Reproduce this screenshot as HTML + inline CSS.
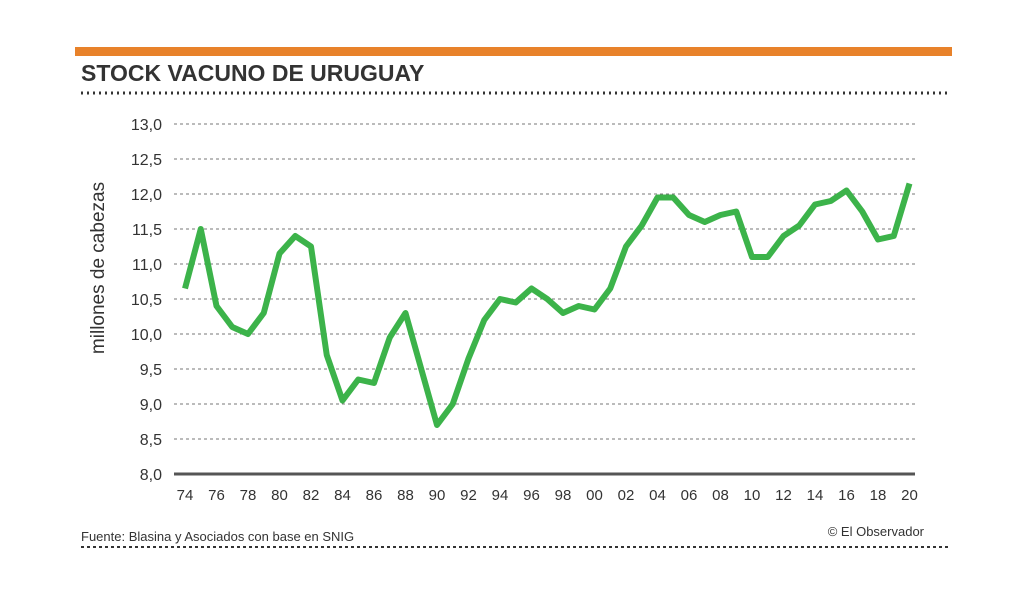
<!DOCTYPE html>
<html><head><meta charset="utf-8"><style>
body{margin:0;background:#fff;width:1024px;height:597px;overflow:hidden;font-family:"Liberation Sans",sans-serif}
</style></head><body>
<svg width="1024" height="597">
<rect x="75" y="47" width="877" height="9" fill="#e8822a"/>
<text x="81" y="81" font-size="23" font-weight="bold" fill="#333">STOCK VACUNO DE URUGUAY</text>
<line x1="81" y1="93" x2="948" y2="93" stroke="#333" stroke-width="3" stroke-dasharray="2,4"/>
<text transform="translate(104,268) rotate(-90)" text-anchor="middle" font-size="19" fill="#333">millones de cabezas</text>
<g id="grid"></g><g id="xt"></g>
<path id="line" fill="none" stroke="#3cb34a" stroke-width="6" stroke-linejoin="round"/>
<text x="81" y="541" font-size="13" fill="#333">Fuente: Blasina y Asociados con base en SNIG</text>
<text x="924" y="536" text-anchor="end" font-size="13" fill="#333">© El Observador</text>
<line x1="81" y1="547" x2="948" y2="547" stroke="#333" stroke-width="2" stroke-dasharray="3,3"/>
</svg>
<script>
const years=[];for(let y=1974;y<=2020;y++)years.push(y);
const values=[10.65,11.5,10.4,10.1,10.0,10.3,11.15,11.4,11.25,9.7,9.05,9.35,9.3,9.95,10.3,9.5,8.7,9.0,9.65,10.2,10.5,10.45,10.65,10.5,10.3,10.4,10.35,10.65,11.25,11.55,11.95,11.95,11.7,11.6,11.7,11.75,11.1,11.1,11.4,11.55,11.85,11.9,12.05,11.75,11.35,11.4,12.15];
const yTicks=[8,8.5,9,9.5,10,10.5,11,11.5,12,12.5,13];
const xTicks=[1974,1976,1978,1980,1982,1984,1986,1988,1990,1992,1994,1996,1998,2000,2002,2004,2006,2008,2010,2012,2014,2016,2018,2020];
const X=y=>185+(y-1974)*15.75, Y=v=>474-(v-8)*70;
const ns="http://www.w3.org/2000/svg";
const g=document.getElementById('grid'),xt=document.getElementById('xt');
yTicks.forEach(v=>{
 const l=document.createElementNS(ns,'line');
 l.setAttribute('x1',174);l.setAttribute('x2',915);l.setAttribute('y1',Y(v));l.setAttribute('y2',Y(v));
 if(v===8){l.setAttribute('stroke','#555');l.setAttribute('stroke-width',3);}
 else{l.setAttribute('stroke','#777');l.setAttribute('stroke-dasharray','3,3');}
 
 
 g.appendChild(l);
 const t=document.createElementNS(ns,'text');
 t.setAttribute('x',162);t.setAttribute('y',Y(v)+6);t.setAttribute('text-anchor','end');t.setAttribute('font-size',16);t.setAttribute('fill','#333');
 t.textContent=v.toFixed(1).replace('.',',');
 
 
 g.appendChild(t);
});
xTicks.forEach(y=>{
 const t=document.createElementNS(ns,'text');
 t.setAttribute('x',X(y));t.setAttribute('y',500);t.setAttribute('text-anchor','middle');t.setAttribute('font-size',15);t.setAttribute('fill','#333');
 t.textContent=String(y%100).padStart(2,'0');
 
 
 xt.appendChild(t);
});
document.getElementById('line').setAttribute('d',values.map((v,i)=>(i?'L':'M')+X(years[i])+','+Y(v)).join(''));
</script>
</body></html>
